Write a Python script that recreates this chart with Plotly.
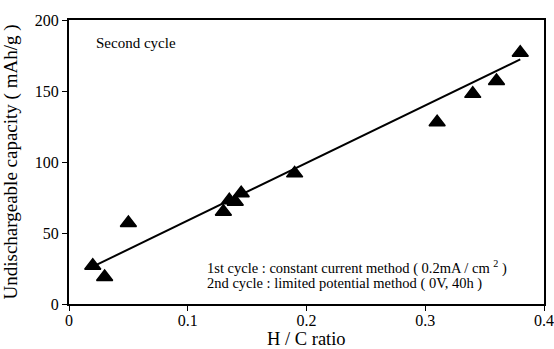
import plotly.graph_objects as go

# H/C ratio and undischargeable capacity (mAh/g), second cycle
hc_ratio = [0.02, 0.03, 0.05, 0.13, 0.135, 0.14, 0.145, 0.19, 0.31, 0.34, 0.36, 0.38]
capacity = [27, 19, 57, 65, 73, 72, 78, 92, 128, 148, 157, 177]

# straight-line fit through the data
fit_x = [0.02, 0.38]
fit_y = [26.3, 172.3]

x_ticks = [0, 0.1, 0.2, 0.3, 0.4]
x_tick_labels = ["0", "0.1", "0.2", "0.3", "0.4"]
y_ticks = [0, 50, 100, 150, 200]

font_family = "Times New Roman, Liberation Serif, serif"

fig = go.Figure()
fig.add_trace(go.Scatter(
    x=fit_x, y=fit_y, mode="lines",
    line=dict(color="black", width=2),
    showlegend=False, hoverinfo="skip",
))
fig.add_trace(go.Scatter(
    x=hc_ratio, y=capacity, mode="markers",
    marker=dict(symbol="triangle-up", size=14, color="black",
                line=dict(color="black", width=1.5)),
    showlegend=False,
))

axis_common = dict(
    showgrid=False, zeroline=False, automargin=False,
    showline=True, linecolor="black", linewidth=2, mirror=True,
    ticks="outside", ticklen=5, tickwidth=1, tickcolor="black",
    tickfont=dict(family=font_family, size=16, color="black"),
)

fig.update_xaxes(
    range=[0, 0.4], tickvals=x_ticks, ticktext=x_tick_labels,
    ticklabelstandoff=-4,
    **axis_common,
)
fig.update_yaxes(
    range=[0, 200], tickvals=y_ticks,
    title=dict(text="Undischargeable capacity ( mAh/g )",
               font=dict(family=font_family, size=19, color="black")),
    **axis_common,
)

# x-axis title placed just under the tick labels
fig.add_annotation(
    x=0.5, y=0, xref="paper", yref="paper", xanchor="center", yanchor="middle",
    yshift=-35, text="H / C ratio", showarrow=False,
    font=dict(family=font_family, size=18.5, color="black"),
)
fig.add_annotation(
    x=0.021, y=184, xref="x", yref="y", xanchor="left", yanchor="middle",
    text="Second cycle", showarrow=False,
    font=dict(family=font_family, size=15, color="black"),
)
fig.add_annotation(
    x=0.1145, y=26, xref="x", yref="y", xanchor="left", yanchor="middle",
    text="1st cycle : constant current method ( 0.2mA / cm <sup>2</sup> )",
    showarrow=False, font=dict(family=font_family, size=14.5, color="black"),
)
fig.add_annotation(
    x=0.1145, y=14.5, xref="x", yref="y", xanchor="left", yanchor="middle",
    text="2nd cycle : limited potential method ( 0V, 40h )",
    showarrow=False, font=dict(family=font_family, size=14.5, color="black"),
)

fig.update_layout(
    width=554, height=349,
    margin=dict(l=69, r=10, t=20, b=45),
    paper_bgcolor="white", plot_bgcolor="white",
    font=dict(family=font_family, color="black"),
)

fig.write_html("out.html")
